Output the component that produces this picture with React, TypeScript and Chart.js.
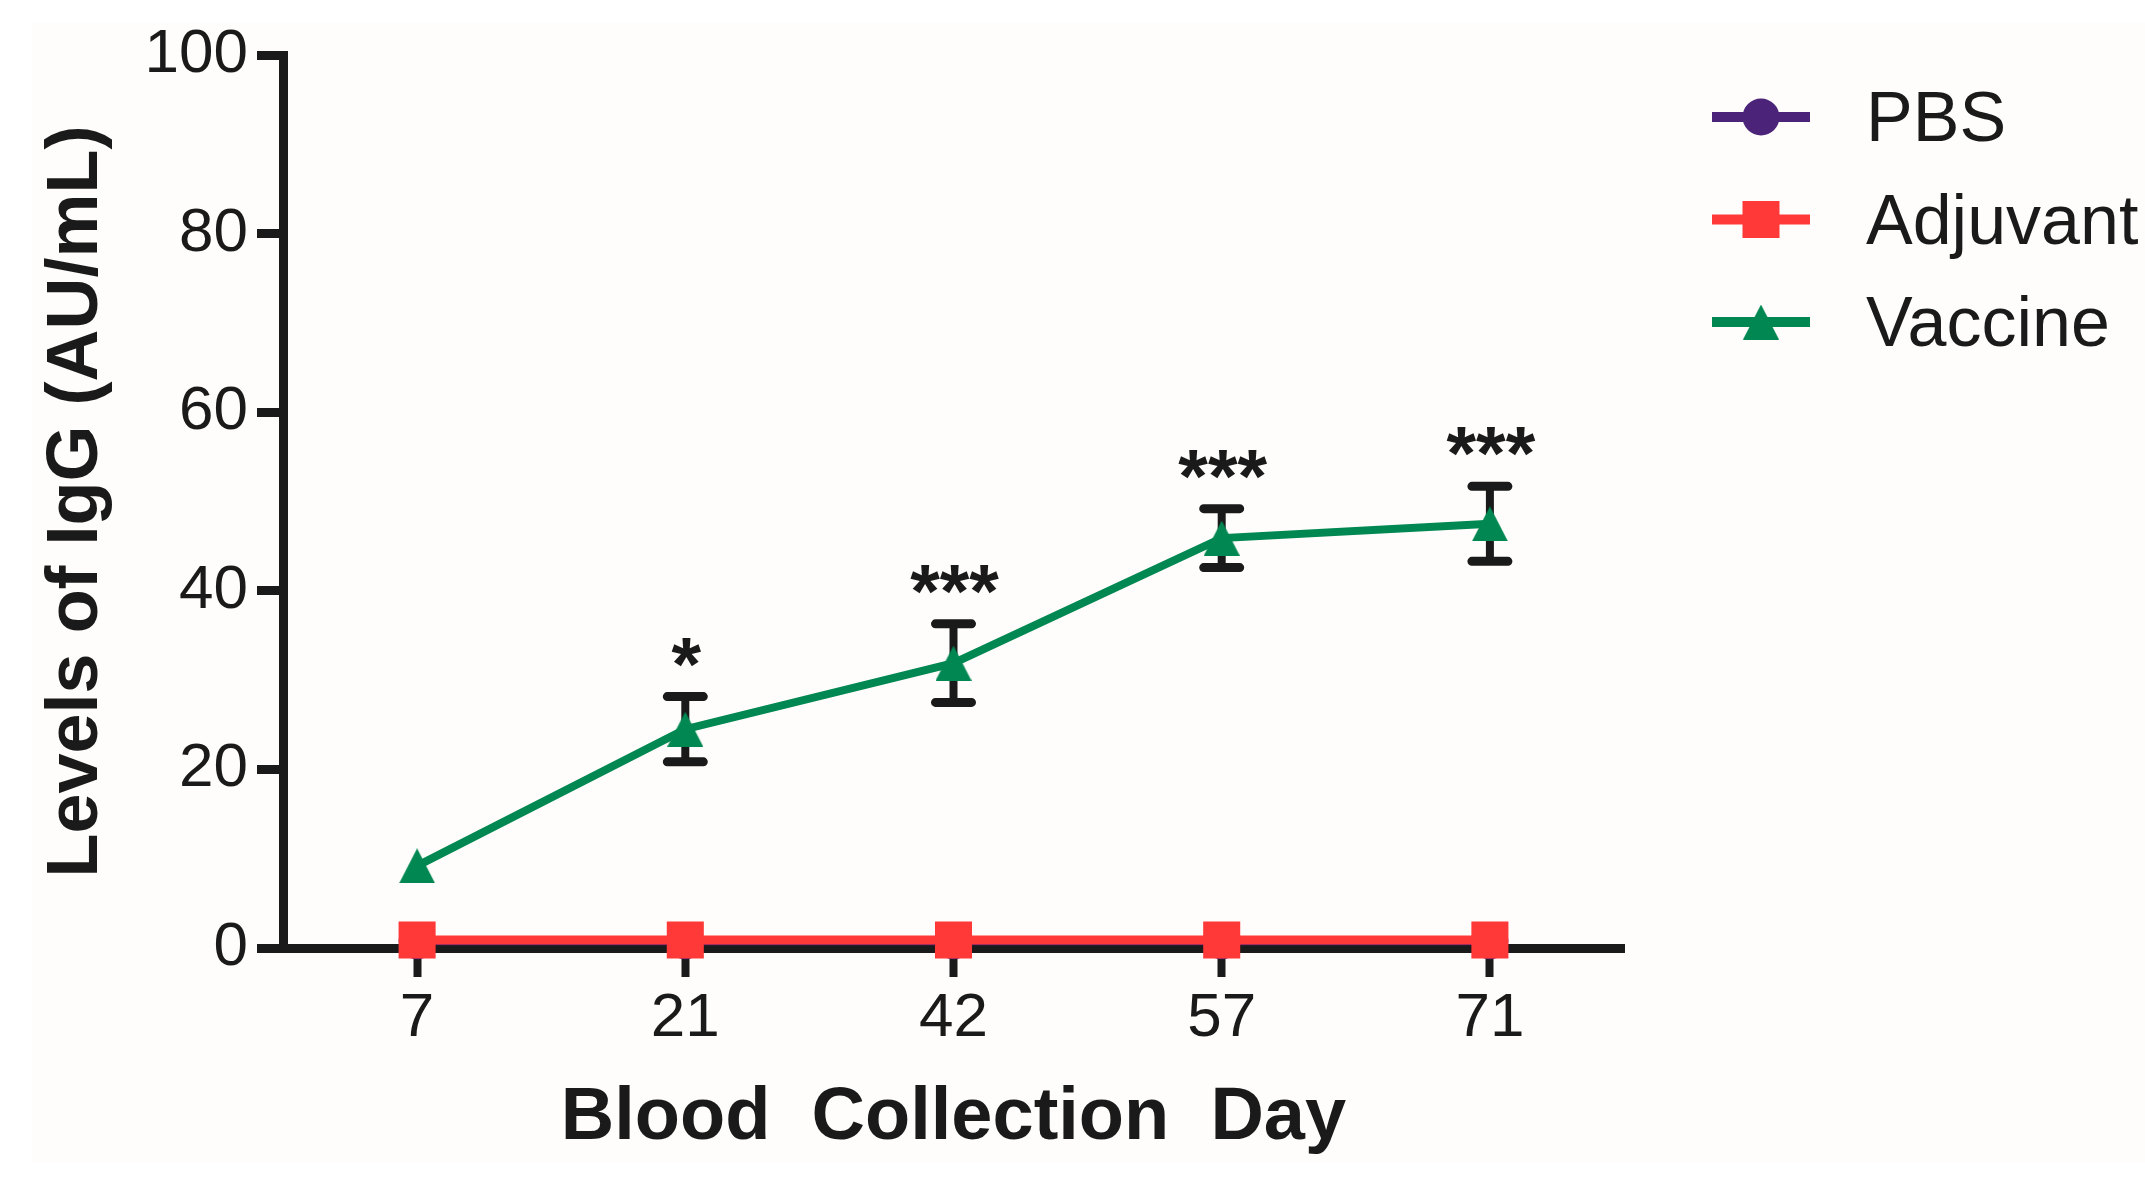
import { useEffect, useRef } from "react";
import { Chart, registerables } from "chart.js";

Chart.register(...registerables);

// data
const days = ["7", "21", "42", "57", "71"];
const pbs = [0.8, 0.8, 0.8, 0.8, 0.8];
const adjuvant = [0.9, 0.9, 0.9, 0.9, 0.9];
const vaccine = [9.2, 24.5, 31.9, 45.9, 47.5];
const vaccineSem = [0, 3.65, 4.4, 3.3, 4.2];
const stars = ["", "*", "***", "***", "***"];
const yTicks = [0, 20, 40, 60, 80, 100];

const INK = "#1a1a1a";
const PURPLE = "#4b2378";
const RED = "#ff3838";
const GREEN = "#008752";
const FONT = "'Liberation Sans', Arial, sans-serif";

// GraphPad-like triangle (a bit wider than tall)
function makeTriangle(color, w, h) {
    const c = document.createElement("canvas");
    c.width = w;
    c.height = h;
    const g = c.getContext("2d");
    g.fillStyle = color;
    g.beginPath();
    g.moveTo(0, h);
    g.lineTo(w / 2, 0);
    g.lineTo(w, h);
    g.closePath();
    g.fill();
    return c;
}

const background = {
    id: "background",
    beforeDraw(chart) {
        const ctx = chart.ctx;
        ctx.save();
        ctx.fillStyle = "#ffffff";
        ctx.fillRect(0, 0, chart.width, chart.height);
        ctx.fillStyle = "#fffdfb";
        ctx.fillRect(32, 23, chart.width - 32, 1162 - 23);
        ctx.restore();
    },
};

const errorBars = {
    id: "errorBars",
    beforeDatasetsDraw(chart) {
        const ctx = chart.ctx;
        const xs = chart.scales.x;
        const ys = chart.scales.y;
        ctx.save();
        ctx.strokeStyle = INK;
        vaccine.forEach((v, i) => {
            const sem = vaccineSem[i];
            if (!sem) return;
            const px = xs.getPixelForValue(i);
            const top = ys.getPixelForValue(v + sem);
            const bot = ys.getPixelForValue(v - sem);
            ctx.lineWidth = 8;
            ctx.lineCap = "butt";
            ctx.beginPath();
            ctx.moveTo(px, top);
            ctx.lineTo(px, bot);
            ctx.stroke();
            ctx.lineWidth = 9;
            ctx.lineCap = "round";
            ctx.beginPath();
            ctx.moveTo(px - 18, top);
            ctx.lineTo(px + 18, top);
            ctx.moveTo(px - 18, bot);
            ctx.lineTo(px + 18, bot);
            ctx.stroke();
        });
        ctx.restore();
    },
    afterDatasetsDraw(chart) {
        const ctx = chart.ctx;
        const xs = chart.scales.x;
        const ys = chart.scales.y;
        ctx.save();
        ctx.fillStyle = INK;
        ctx.font = "bold 76px " + FONT;
        ctx.textAlign = "center";
        ctx.textBaseline = "alphabetic";
        stars.forEach((s, i) => {
            if (!s) return;
            const px = xs.getPixelForValue(i);
            const top = ys.getPixelForValue(vaccine[i] + vaccineSem[i]);
            ctx.fillText(s, px + 1, top - 7);
        });
        ctx.restore();
    },
};

const lineLegend = {
    id: "lineLegend",
    afterDraw(chart) {
        const ctx = chart.ctx;
        ctx.save();
        chart.data.datasets.forEach((ds, i) => {
            const y = 117 + i * 102.5;
            ctx.strokeStyle = ds.borderColor;
            ctx.lineWidth = 10;
            ctx.beginPath();
            ctx.moveTo(1712, y);
            ctx.lineTo(1810, y);
            ctx.stroke();
            ctx.fillStyle = ds.borderColor;
            if (ds.pointStyle === "circle") {
                ctx.beginPath();
                ctx.arc(1761, y, 18.5, 0, Math.PI * 2);
                ctx.fill();
            } else if (ds.pointStyle === "rect") {
                ctx.fillRect(1761 - 18.5, y - 18.5, 37, 37);
            } else {
                const img = ds.pointStyle;
                ctx.drawImage(img, 1761 - img.width / 2, y - img.height / 2);
            }
            ctx.fillStyle = INK;
            ctx.font = "70px " + FONT;
            ctx.textAlign = "left";
            ctx.textBaseline = "alphabetic";
            ctx.fillText(ds.label, 1866, y + 24);
        });
        ctx.restore();
    },
};

export default function App() {
    const chartRef = useRef(null);

    useEffect(() => {
        const ctx = chartRef.current.getContext("2d");
        const tri = makeTriangle(GREEN, 36, 35);
        const chart = new Chart(ctx, {
            type: "line",
            data: {
                labels: days,
                datasets: [
                    {
                        label: "PBS",
                        data: pbs,
                        borderColor: PURPLE,
                        backgroundColor: PURPLE,
                        borderWidth: 9,
                        pointStyle: "circle",
                        pointRadius: 18.5,
                        pointBorderWidth: 0,
                        order: 3,
                        clip: false,
                    },
                    {
                        label: "Adjuvant",
                        data: adjuvant,
                        borderColor: RED,
                        backgroundColor: RED,
                        borderWidth: 9,
                        pointStyle: "rect",
                        pointRadius: 26.2,
                        pointBorderWidth: 0,
                        order: 2,
                        clip: false,
                    },
                    {
                        label: "Vaccine",
                        data: vaccine,
                        borderColor: GREEN,
                        backgroundColor: GREEN,
                        borderWidth: 8,
                        pointStyle: tri,
                        pointRadius: 18,
                        pointBorderWidth: 0,
                        order: 1,
                        clip: false,
                    },
                ],
            },
            options: {
                responsive: false,
                animation: false,
                devicePixelRatio: 1,
                layout: {padding: {top: 55, right: 521, left: 0, bottom: 0}},
                plugins: {
                    legend: {display: false},
                    tooltip: {enabled: false},
                },
                scales: {
                    x: {
                        type: "category",
                        offset: true,
                        afterFit: (s) => {
                            s.height = 233;
                        },
                        grid: {
                            drawOnChartArea: false,
                            drawTicks: true,
                            tickLength: 29,
                            tickWidth: 8,
                            tickColor: INK,
                        },
                        border: {display: true, color: INK, width: 9},
                        ticks: {
                            color: INK,
                            padding: 5,
                            font: {family: FONT, size: 62},
                            maxRotation: 0,
                        },
                        title: {
                            display: true,
                            text: "Blood  Collection  Day",
                            color: INK,
                            font: {family: FONT, size: 74, weight: "bold"},
                            padding: {top: 0, bottom: 18},
                        },
                    },
                    y: {
                        min: 0,
                        max: 100,
                        afterFit: (s) => {
                            s.width = 283;
                        },
                        afterBuildTicks: (s) => {
                            s.ticks = yTicks.map((v) => ({value: v}));
                        },
                        grid: {
                            drawOnChartArea: false,
                            drawTicks: true,
                            tickLength: 26,
                            tickWidth: 9,
                            tickColor: INK,
                        },
                        border: {display: true, color: INK, width: 9},
                        ticks: {
                            color: INK,
                            padding: 9,
                            font: {family: FONT, size: 62},
                        },
                        title: {
                            display: true,
                            text: "Levels of IgG (AU/mL)",
                            color: INK,
                            font: {family: FONT, size: 72, weight: "bold"},
                            padding: {top: 34, bottom: 0},
                        },
                    },
                },
            },
            plugins: [background, errorBars, lineLegend],
        });

        return () => {
            chart.destroy();
        };
    }, []);

    return (
        <div style={{position: "absolute", left: 0, top: 0}}>
            <canvas ref={chartRef} width={2145} height={1181} style={{display: "block"}}/>
        </div>
    );
}
